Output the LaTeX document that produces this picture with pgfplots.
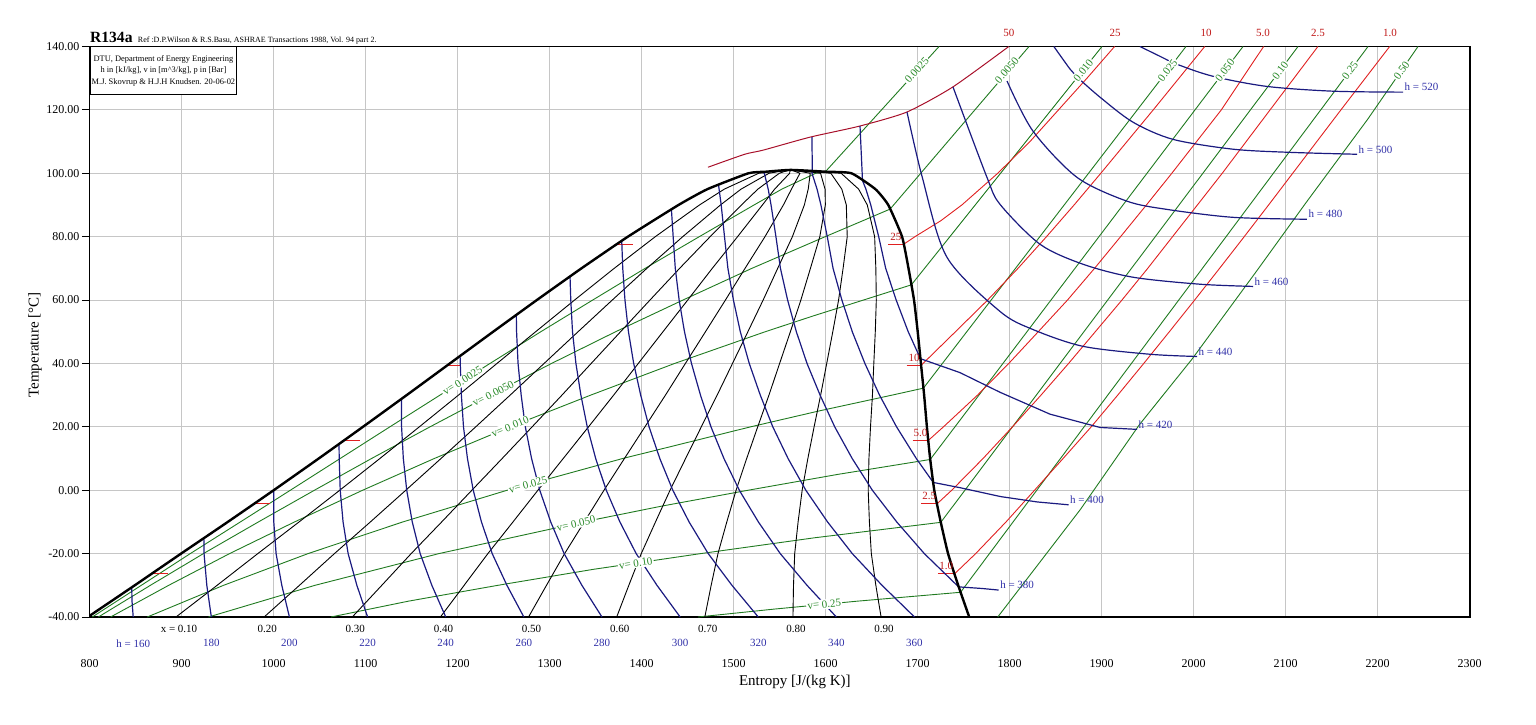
\documentclass[border=0pt]{standalone}
\usepackage{fontspec}
\setmainfont{Liberation Serif}
\usepackage{pgfplots}
\pgfplotsset{compat=1.18}
\definecolor{hcol}{HTML}{1A1A80}
\definecolor{htxt}{HTML}{3030A8}
\definecolor{pcol}{HTML}{E02020}
\definecolor{pdark}{HTML}{A8102A}
\definecolor{ptxt}{HTML}{C01818}
\definecolor{vcol}{HTML}{207A20}
\definecolor{vtxt}{HTML}{2A8A2A}
\definecolor{gridc}{HTML}{C6C6C6}
\newcommand{\fs}[1]{\fontsize{#1}{#1}\selectfont}
\tikzset{
  qline/.style={black, line width=0.45pt},
  hline/.style={hcol, line width=0.6pt},
  vline/.style={vcol, line width=0.45pt},
  pline/.style={pcol, line width=0.45pt},
  lab/.style={font=\fs{5.5}, inner sep=0.6pt},
  vlab/.style={lab, vtxt, fill=white},
  hlab/.style={lab, htxt},
  plab/.style={lab, ptxt},
}
\begin{document}
\begin{tikzpicture}
\useasboundingbox (-44.85pt,-53.5pt) rectangle (723.15pt,308.5pt);
\begin{axis}[
  at={(0pt,0pt)}, anchor=south west, scale only axis,
  width=690pt, height=285.25pt,
  xmin=800, xmax=2300, ymin=-40, ymax=140,
  xtick={800,900,...,2300}, ytick={-40,-20,...,140},
  grid=major, grid style={draw=gridc, line width=0.5pt},
  axis line style={line width=0.8pt},
  tick align=outside, ytick pos=left, xtick pos=bottom,
  major tick length=3.85pt,
  xtick style={draw=none}, ytick style={black, line width=0.5pt},
  /pgf/number format/assume math mode=true,
  ticklabel style={font=\fs{6}},
  xticklabel style={/pgf/number format/1000 sep={}, yshift=-14pt},
  yticklabel style={/pgf/number format/.cd, fixed, fixed zerofill, precision=2, /tikz/.cd, xshift=2.2pt},
  xlabel={Entropy [J/(kg K)]}, ylabel={Temperature [°C]},
  label style={font=\fs{7.5}},
  xlabel style={at={(axis description cs:0.511,-0.1139)}, anchor=center},
  ylabel style={at={(axis description cs:-0.0396,0.477)}, anchor=center},
  clip mode=individual, no markers,
]
% ---- isochores (two-phase + superheated), m^3/kg
\addplot[vline] coordinates {(802.8,-40)(856.1,-30)(909.3,-20)(963.8,-10)(1018.1,0)(1072.2,10)(1126.3,20)(1180.7,30)(1235.1,40)(1290.3,50)(1346.7,60)(1403.7,70)(1462.6,80)(1522.1,90)(1552.3,95)(1589.1,100)(1600,100.6)(1723.2,140)};
\addplot[vline] coordinates {(809.4,-40)(866,-30)(923.6,-20)(983.4,-10)(1044.3,0)(1106.3,10)(1169.9,20)(1235.3,30)(1302,40)(1371.6,50)(1444.8,60)(1519.7,70)(1599.5,80)(1640.1,85)(1670,88.7)(1821,140)};
\addplot[vline] coordinates {(822.7,-40)(885.9,-30)(952,-20)(1022.7,-10)(1096.7,0)(1174.5,10)(1257,20)(1344.5,30)(1435.8,40)(1534.2,50)(1586.5,55)(1641,60)(1693.1,64.8)(1900.3,140)};
\addplot[vline] coordinates {(862.6,-40)(945.5,-30)(1037.3,-20)(1140.4,-10)(1253.8,0)(1379.2,10)(1518.4,20)(1592.6,25)(1672,30)(1706.2,32.2)(1991.6,140)};
\addplot[vline] coordinates {(929.1,-40)(1044.9,-30)(1179.5,-20)(1336.5,-10)(1422,-5)(1515.7,0)(1613.2,5)(1713.6,9.7)(2053.6,140)};
\addplot[vline] coordinates {(1062.2,-40)(1146.5,-35)(1243.7,-30)(1346.5,-25)(1464,-20)(1588,-15)(1725.1,-10.13)(2113.4,140)};
\addplot[vline] coordinates {(1461.2,-40)(1544.2,-37.5)(1634.5,-35)(1746.6,-32.2)(2189.5,140)};
\addplot[vline] coordinates {(1787,-40)(1877,-6)(1941,20.7)(1998,41.3)(2067,68.6)(2122,90.7)(2189,117)(2243.8,140)};
% ---- isobars, bar
\addplot[pline] coordinates {(1740,-26.4)(1763,-20)(1796,-10)(1827,0)(1858,10)(1888.6,20)(1917.4,30)(1945.7,40)(1973.5,50)(2001,60)(2028.1,70)(2054.9,80)(2081.4,90)(2107.6,100)(2160,120)(2213,140)};
\addplot[pline] coordinates {(1721,-4.3)(1737,0)(1771,10)(1803,20)(1834,30)(1864,40)(1893,50)(1922,60)(1950,70)(1977,80)(2004,90)(2031,100)(2083,120)(2135,140)};
\addplot[pline] coordinates {(1711.5,15.7)(1728,20)(1765,30)(1799,40)(1831,50)(1862.8,60)(1892.2,70)(1920.5,80)(1948.6,90)(1976.2,100)(2030,120)(2076,140)};
\addplot[pline] coordinates {(1703.7,39.4)(1741,50)(1776,60)(1809,70)(1840,80)(1870,90)(1899,100)(1956,120)(2012,140)};
\addplot[pline] coordinates {(1684.6,77.6)(1697,80)(1725,85)(1748,90)(1787,100)(1822,110)(1853,120)(1884,130)(1914,140)};
\addplot[pdark, line width=0.5pt, smooth, tension=0.4] coordinates {(1472,101.9)(1512,106)(1532,107.3)(1583,111.4)(1637,114.9)(1688,119.3)(1738,127.2)(1799,140)};
% liquid / vapour marks of the isobars
\addplot[pline] coordinates {(867.1,-26.4)(885,-26.4)};
\addplot[pline] coordinates {(978.5,-4.3)(996.5,-4.3)};
\addplot[pline] coordinates {(1076.3,15.7)(1094,15.7)};
\addplot[pline] coordinates {(1188.7,39.4)(1203,39.4)};
\addplot[pline] coordinates {(1372.9,77.6)(1390,77.6)};
\addplot[pline] coordinates {(1722,-26.4)(1740,-26.4)};
\addplot[pline] coordinates {(1704,-4.3)(1721,-4.3)};
\addplot[pline] coordinates {(1694.5,15.7)(1711.5,15.7)};
\addplot[pline] coordinates {(1688,39.4)(1703.7,39.4)};
\addplot[pline] coordinates {(1668,77.6)(1684.6,77.6)};
% ---- quality lines
\addplot[qline] coordinates {(893.8,-40)(938.5,-30)(982.7,-20)(1027.6,-10)(1071.8,0)(1115.4,10)(1158.3,20)(1200.8,30)(1242.7,40)(1284.7,50)(1327,60)(1370.1,70)(1414.8,80)(1462.8,90)(1489.8,95)(1527.2,100)(1541.5,100.5)(1562,101.06)};
\addplot[qline] coordinates {(989.6,-40)(1028,-30)(1066,-20)(1105.1,-10)(1143.6,0)(1181.8,10)(1219.6,20)(1257,30)(1293.9,40)(1330.8,50)(1368,60)(1405.6,70)(1444.6,80)(1485.6,90)(1508,95)(1538.4,100)(1548,100.5)(1562,101.06)};
\addplot[qline] coordinates {(1085.4,-40)(1117.5,-30)(1149.4,-20)(1182.6,-10)(1215.4,0)(1248.3,10)(1280.9,20)(1313.3,30)(1345.1,40)(1377,50)(1409,60)(1441.2,70)(1474.4,80)(1508.4,90)(1526.3,95)(1549.6,100)(1554.5,100.5)(1562,101.06)};
\addplot[qline] coordinates {(1181.2,-40)(1207,-30)(1232.8,-20)(1260.1,-10)(1287.2,0)(1314.7,10)(1342.2,20)(1369.5,30)(1396.3,40)(1423.1,50)(1450,60)(1476.7,70)(1504.2,80)(1531.2,90)(1544.5,95)(1560.8,100)(1561,100.5)(1562,101.06)};
\addplot[qline] coordinates {(1277,-40)(1296.5,-30)(1316.2,-20)(1337.6,-10)(1359,0)(1381.2,10)(1403.5,20)(1425.8,30)(1447.5,40)(1469.3,50)(1491,60)(1512.3,70)(1534,80)(1554,90)(1562.8,95)(1572,100)(1567.5,100.5)(1562,101.06)};
\addplot[qline] coordinates {(1372.8,-40)(1386,-30)(1399.5,-20)(1415,-10)(1430.8,0)(1447.7,10)(1464.8,20)(1482,30)(1498.7,40)(1515.4,50)(1532,60)(1547.8,70)(1563.8,80)(1576.8,90)(1581,95)(1583.2,100)(1574,100.5)(1562,101.06)};
\addplot[qline] coordinates {(1468.6,-40)(1475.5,-30)(1482.9,-20)(1492.5,-10)(1502.6,0)(1514.1,10)(1526.1,20)(1538.3,30)(1549.9,40)(1561.6,50)(1573,60)(1583.4,70)(1593.6,80)(1599.6,90)(1599.3,95)(1594.4,100)(1580.5,100.5)(1562,101.06)};
\addplot[qline] coordinates {(1564.4,-40)(1565,-30)(1566.3,-20)(1570,-10)(1574.4,0)(1580.6,10)(1587.4,20)(1594.5,30)(1601.1,40)(1607.7,50)(1614,60)(1618.9,70)(1623.4,80)(1622.4,90)(1617.5,95)(1605.6,100)(1587,100.5)(1562,101.06)};
\addplot[qline] coordinates {(1660.2,-40)(1654.5,-30)(1649.6,-20)(1647.5,-10)(1646.2,0)(1647,10)(1648.7,20)(1650.8,30)(1652.3,40)(1653.9,50)(1655,60)(1654.5,70)(1653.2,80)(1645.2,90)(1635.8,95)(1616.8,100)(1593.5,100.5)(1562,101.06)};
% ---- isenthalps, kJ/kg
\addplot[hline] coordinates {(847.3,-40)(846,-35)(845.7,-30.65)};
\addplot[hline] coordinates {(932.2,-40)(927.3,-30)(924.3,-20)(924.1,-15.1)};
\addplot[hline] coordinates {(1017.1,-40)(1008.8,-30)(1002.6,-20)(1000.1,-10)(1000,0)};
\addplot[hline] coordinates {(1102.1,-40)(1090.4,-30)(1080.9,-20)(1075.4,-10)(1072.3,0)(1071.2,10)(1071,14.6)};
\addplot[hline] coordinates {(1187,-40)(1171.9,-30)(1159.2,-20)(1150.6,-10)(1144.6,0)(1140.9,10)(1139,20)(1138.8,28.8)};
\addplot[hline] coordinates {(1271.9,-40)(1253.5,-30)(1237.5,-20)(1225.8,-10)(1216.9,0)(1210.6,10)(1206.3,20)(1204,30)(1202.8,40)(1202.6,42.4)};
\addplot[hline] coordinates {(1356.8,-40)(1335,-30)(1315.7,-20)(1301.1,-10)(1289.2,0)(1280.3,10)(1273.5,20)(1269,30)(1265.6,40)(1264,50)(1263.7,55.3)};
\addplot[hline] coordinates {(1441.8,-40)(1416.6,-30)(1394,-20)(1376.3,-10)(1361.5,0)(1350,10)(1340.8,20)(1333.9,30)(1328.5,40)(1324.8,50)(1322.9,60)(1322.1,67.4)};
\addplot[hline] coordinates {(1526.7,-40)(1498.1,-30)(1472.3,-20)(1451.5,-10)(1433.8,0)(1419.7,10)(1408,20)(1398.9,30)(1391.3,40)(1385.6,50)(1381.8,60)(1379.4,70)(1378.3,78.7)};
\addplot[hline] coordinates {(1611.6,-40)(1579.7,-30)(1550.6,-20)(1526.8,-10)(1506.1,0)(1489.4,10)(1475.3,20)(1463.9,30)(1454.1,40)(1446.5,50)(1440.7,60)(1436.5,70)(1434.2,80)(1432.3,88.6)};
\addplot[hline] coordinates {(1696.5,-40)(1661.2,-30)(1628.9,-20)(1602,-10)(1578.4,0)(1559.1,10)(1542.5,20)(1528.9,30)(1516.9,40)(1507.2,50)(1499.7,60)(1493.7,70)(1490,80)(1486.4,90)(1483.5,96.35)};
\addplot[hline] coordinates {(1531,100.4)(1533.3,100)(1537.5,95)(1540.6,90)(1545.9,80)(1550.8,70)(1558.6,60)(1568.1,50)(1579.7,40)(1593.9,30)(1609.8,20)(1628.8,10)(1650.7,0)(1677.2,-10)(1707.2,-20)(1742.7,-30)(1744.6,-30.5)(1770,-31)(1788,-31.5)};
\addplot[hline] coordinates {(1585,111.4)(1585.5,100.65)(1585.1,100)(1590.6,95)(1594.8,90)(1601.7,80)(1608,70)(1617.6,60)(1628.9,50)(1642.6,40)(1658.5,30)(1677,20)(1698.5,10)(1716.9,2.46)(1746,0.8)(1790,-2)(1830,-3.7)(1864,-4.6)};
\addplot[hline] coordinates {(1637.3,114.9)(1640,97.7)(1643.7,95)(1649,90)(1657.6,80)(1665.2,70)(1676.6,60)(1689.7,50)(1703,41.5)(1746,37.1)(1789.5,30.9)(1843.8,24)(1898.2,19.8)(1938.4,19.2)};
\addplot[hline, smooth, tension=0.5] coordinates {(1688.4,119.3)(1705,98.7)(1731.8,73.5)(1789.5,56.4)(1825.3,50.7)(1879.7,45.4)(1952.5,42.9)(2003.6,42.2)};
\addplot[hline, smooth, tension=0.5] coordinates {(1738.4,127.2)(1775.3,98.7)(1789.5,90.2)(1833,77.6)(1879.7,71.3)(1934.1,67.2)(2006.8,65)(2064.5,64.3)};
\addplot[hline, smooth, tension=0.5] coordinates {(1797.1,129.1)(1825.3,113.3)(1873.2,98.7)(1927.5,91.2)(1971,88.6)(2042.7,86.1)(2123.1,85.5)};
\addplot[hline, smooth, tension=0.5] coordinates {(1848,140)(1865.5,132.9)(1873.2,130.4)(1898.2,124)(1934.1,116.1)(1977.5,110.7)(2042.7,107.6)(2104.7,106.6)(2177.5,106)};
\addplot[hline, smooth, tension=0.5] coordinates {(1941.6,140)(1963.4,136.9)(1981.8,134.4)(2021,130.6)(2079.7,127.4)(2151.4,125.9)(2227.5,125.6)};
% ---- saturation dome
\addplot[black, line width=1.2pt, smooth, tension=0.3] coordinates {(798,-40)(849,-30)(899.3,-20)(950.1,-10)(1000,0)(1048.9,10)(1097,20)(1144.5,30)(1191.5,40)(1238.5,50)(1286,60)(1334.5,70)(1385,80)(1440,90)(1471.5,95)(1516,100)(1535,100.5)(1562,101.06)(1600,100.5)(1628,100)(1654,95)(1668,90)(1683,80)(1690,70)(1696,60)(1700,50)(1703.5,40)(1707,30)(1710,20)(1713.5,10)(1718,0)(1725,-10)(1733,-20)(1744,-30)(1756,-40)};
% ---- labels of the isochores
\node[vlab, rotate=32.3] at (axis cs:1205.2,34.5) {v= 0.0025};
\node[vlab, rotate=27.3] at (axis cs:1238.6,30.5) {v= 0.0050};
\node[vlab, rotate=22] at (axis cs:1257,20) {v= 0.010};
\node[vlab, rotate=15.4] at (axis cs:1276.4,1.8) {v= 0.025};
\node[vlab, rotate=12.4] at (axis cs:1328.7,-10.5) {v= 0.050};
\node[vlab, rotate=8.3] at (axis cs:1393.5,-23) {v= 0.10};
\node[vlab, rotate=5.4] at (axis cs:1598.4,-36) {v= 0.25};
\node[vlab, rotate=47.8] at (axis cs:1699,132.5) {0.0025};
\node[vlab, rotate=48.9] at (axis cs:1797,132.5) {0.0050};
\node[vlab, rotate=51.3] at (axis cs:1880,132.5) {0.010};
\node[vlab, rotate=52.4] at (axis cs:1971.7,132.5) {0.025};
\node[vlab, rotate=52.8] at (axis cs:2034,132.5) {0.050};
\node[vlab, rotate=53.1] at (axis cs:2094,132.5) {0.10};
\node[vlab, rotate=53.2] at (axis cs:2170,132.5) {0.25};
\node[vlab, rotate=53.6] at (axis cs:2226,132.5) {0.50};
% ---- labels of the isobars
\node[plab, anchor=south, yshift=4pt] at (axis cs:1799.2,140) {50};
\node[plab, anchor=south, yshift=4pt] at (axis cs:1914.5,140) {25};
\node[plab, anchor=south, yshift=4pt] at (axis cs:2013.4,140) {10};
\node[plab, anchor=south, yshift=4pt] at (axis cs:2075.3,140) {5.0};
\node[plab, anchor=south, yshift=4pt] at (axis cs:2135,140) {2.5};
\node[plab, anchor=south, yshift=4pt] at (axis cs:2213.4,140) {1.0};
\node[plab, anchor=south, yshift=1.2pt] at (axis cs:1731,-26.4) {1.0};
\node[plab, anchor=south, yshift=1.2pt] at (axis cs:1712.5,-4.3) {2.5};
\node[plab, anchor=south, yshift=1.2pt] at (axis cs:1703,15.7) {5.0};
\node[plab, anchor=south, yshift=1.2pt] at (axis cs:1696,39.4) {10};
\node[plab, anchor=south, yshift=1.2pt] at (axis cs:1676.3,77.6) {25};
% ---- labels of the isenthalps
\node[hlab, anchor=west, yshift=2.5pt] at (axis cs:1788,-31.5) {h = 380};
\node[hlab, anchor=west, yshift=2.5pt] at (axis cs:1864,-4.6) {h = 400};
\node[hlab, anchor=west, yshift=2.5pt] at (axis cs:1938.4,19.2) {h = 420};
\node[hlab, anchor=west, yshift=2.5pt] at (axis cs:2003.6,42.2) {h = 440};
\node[hlab, anchor=west, yshift=2.5pt] at (axis cs:2064.5,64.3) {h = 460};
\node[hlab, anchor=west, yshift=2.5pt] at (axis cs:2123.1,85.5) {h = 480};
\node[hlab, anchor=west, yshift=2.5pt] at (axis cs:2177.5,106) {h = 500};
\node[hlab, anchor=west, yshift=2.5pt] at (axis cs:2227.5,125.6) {h = 520};
% ---- bottom rows: quality and enthalpy
\node[lab, anchor=north, yshift=-3.5pt, xshift=1.5pt] at (axis cs:893.8,-40) {x = 0.10};
\node[lab, anchor=north, yshift=-3.5pt, xshift=1.5pt] at (axis cs:989.6,-40) {0.20};
\node[lab, anchor=north, yshift=-3.5pt, xshift=1.5pt] at (axis cs:1085.4,-40) {0.30};
\node[lab, anchor=north, yshift=-3.5pt, xshift=1.5pt] at (axis cs:1181.2,-40) {0.40};
\node[lab, anchor=north, yshift=-3.5pt, xshift=1.5pt] at (axis cs:1277,-40) {0.50};
\node[lab, anchor=north, yshift=-3.5pt, xshift=1.5pt] at (axis cs:1372.8,-40) {0.60};
\node[lab, anchor=north, yshift=-3.5pt, xshift=1.5pt] at (axis cs:1468.6,-40) {0.70};
\node[lab, anchor=north, yshift=-3.5pt, xshift=1.5pt] at (axis cs:1564.4,-40) {0.80};
\node[lab, anchor=north, yshift=-3.5pt, xshift=1.5pt] at (axis cs:1660.2,-40) {0.90};
\node[hlab, anchor=north, yshift=-10.5pt] at (axis cs:847.3,-40) {h = 160};
\node[hlab, anchor=north, yshift=-10.5pt] at (axis cs:932.2,-40) {180};
\node[hlab, anchor=north, yshift=-10.5pt] at (axis cs:1017.1,-40) {200};
\node[hlab, anchor=north, yshift=-10.5pt] at (axis cs:1102.1,-40) {220};
\node[hlab, anchor=north, yshift=-10.5pt] at (axis cs:1187,-40) {240};
\node[hlab, anchor=north, yshift=-10.5pt] at (axis cs:1271.9,-40) {260};
\node[hlab, anchor=north, yshift=-10.5pt] at (axis cs:1356.8,-40) {280};
\node[hlab, anchor=north, yshift=-10.5pt] at (axis cs:1441.8,-40) {300};
\node[hlab, anchor=north, yshift=-10.5pt] at (axis cs:1526.7,-40) {320};
\node[hlab, anchor=north, yshift=-10.5pt] at (axis cs:1611.6,-40) {340};
\node[hlab, anchor=north, yshift=-10.5pt] at (axis cs:1696.5,-40) {360};
% ---- title and info box
\node[anchor=base west, inner sep=0pt, font=\fs{7.8}\bfseries, yshift=2.1pt] (ttl) at (rel axis cs:0,1) {R134a};
\node[anchor=base west, inner sep=0pt, font=\fs{4}, xshift=2.3pt] at (ttl.base east) {Ref :D.P.Wilson \& R.S.Basu, ASHRAE Transactions 1988, Vol. 94 part 2.};
\node[draw, fill=white, line width=0.5pt, anchor=north west, inner sep=0pt, minimum width=73.25pt, minimum height=23.9pt, align=center, font=\fontsize{4.2}{5.8}\selectfont] at (rel axis cs:0,1) {DTU, Department of Energy Engineering\\h in [kJ/kg], v in [m\textasciicircum 3/kg], p in [Bar]\\M.J. Skovrup \& H.J.H Knudsen. 20-06-02};
\end{axis}
\end{tikzpicture}
\end{document}
